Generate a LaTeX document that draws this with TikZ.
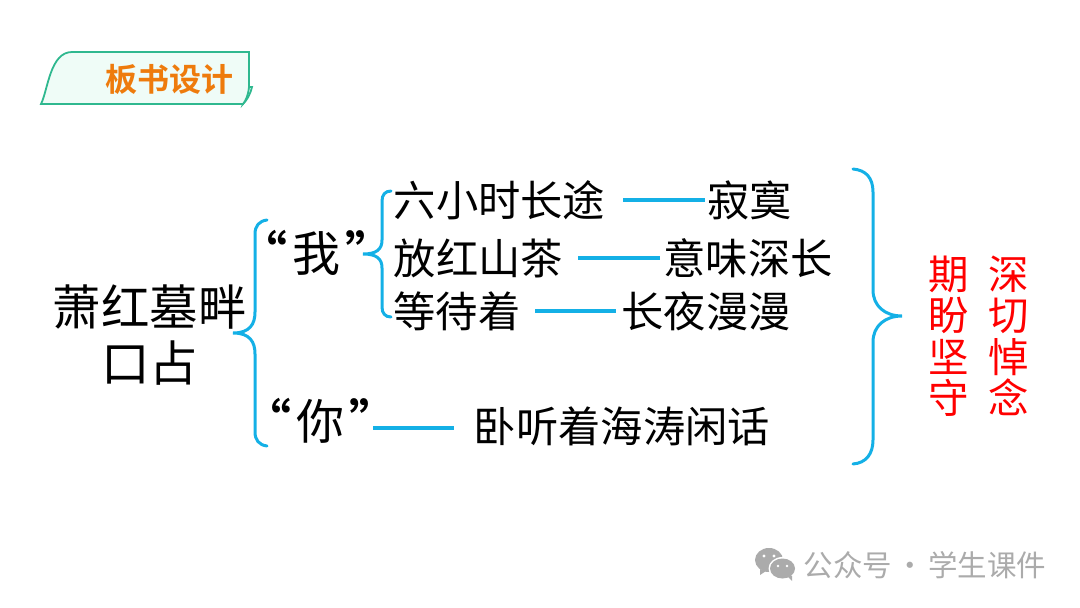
\documentclass[tikz,border=0pt]{standalone}
\usepackage{fontspec}
\setmainfont{Noto Sans CJK SC}
\newfontfamily\cjkb{Noto Sans CJK SC Bold}
\newcommand{\fsz}[1]{\fontsize{#1pt}{#1pt}\selectfont}
\definecolor{bluebr}{HTML}{14B0E6}
\definecolor{tagedge}{HTML}{2FB88F}
\definecolor{tagfill}{HTML}{EFFCF7}
\definecolor{tagtext}{HTML}{EE7B0C}
\definecolor{markgray}{HTML}{ABABAB}
\tikzset{
 x=1pt,y=-1pt,
 txt/.style={inner sep=0pt,outer sep=0pt,text=black,font=\fsz{42.3},anchor=center},
 rubric/.style={inner sep=0pt,outer sep=0pt,text=red,font=\fsz{40.5},align=center,text width=42pt},
 dashln/.style={draw=bluebr,line width=4pt},
 bracket/.style={draw=bluebr,line width=3pt,line cap=round},
}
\begin{document}
\begin{tikzpicture}
\useasboundingbox (0,0) rectangle (1080,608);
% tag
\draw[tagedge,line width=1.8pt,fill=tagfill] (249,87) -- (252,87) .. controls (250,95) and (247,100) .. (243,104) -- (249,87);
\draw[tagedge,line width=1.8pt,fill=tagfill] (41,104) .. controls (48,90) and (50,52) .. (72,52) -- (249,52) -- (249,87) .. controls (248,96) and (246,100) .. (243,104) -- cycle;
\node[inner sep=0pt,text=tagtext,font=\fsz{32}\cjkb] (tag) at (169,79.5) {板书设计};
% main texts
\node[txt,font=\fsz{48.5}] (root1) at (149.5,307) {萧红墓畔};
\node[txt,font=\fsz{48.5}] (root2) at (149.5,363) {口\hspace{0pt}占};
\node[txt,font=\fsz{48}] (wo) at (316,253) {{\cjkb “}\hspace{5pt}我\hspace{5pt}{\cjkb ”}};
\node[txt,font=\fsz{48}] (ni) at (320,421) {{\cjkb “}\hspace{5pt}你\hspace{5pt}{\cjkb ”}};
\node[txt] (a1) at (499.5,200) {六小时长途};
\node[txt] (a2) at (749.5,200) {寂寞};
\node[txt] (b1) at (478.5,258) {放红山茶};
\node[txt] (b2) at (748,258) {意味深长};
\node[txt] (c1) at (457,311) {等待着};
\node[txt] (c2) at (706,311) {长夜漫漫};
\node[txt] (d2) at (622,426) {卧听着海涛闲话};
% dashes
\draw[dashln,shorten <=18pt,shorten >=2pt] (a1.east |- a2.west) -- (a2.west);
\draw[dashln,shorten <=15pt,shorten >=3pt] (b1.east) -- (b2.west);
\draw[dashln,shorten <=15pt,shorten >=5pt] (c1.east) -- (c2.west);
\coordinate (nidash) at (373,428);
\draw[dashln,shorten >=20pt] (nidash) -- (nidash -| d2.west);
% braces
\draw[bracket] (267,220) .. controls (259,221) and (255,226) .. (255,234) -- (255,312)
  .. controls (255,324) and (250,333) .. (233,333) .. controls (250,333) and (255,342) .. (255,354)
  -- (255,432) .. controls (255,440) and (259,445) .. (267,446);
\draw[bracket] (391,191) .. controls (385,191) and (382,195) .. (382,201) -- (382,240)
  .. controls (382,249) and (377,254) .. (363,254) .. controls (377,254) and (382,259) .. (382,268)
  -- (382,307) .. controls (382,313) and (385,317) .. (391,317);
\draw[bracket] (853,169) .. controls (866,170) and (873,178) .. (873,192) -- (873,290)
  .. controls (873,306) and (885,316) .. (902,316) .. controls (885,316) and (873,326) .. (873,342)
  -- (873,440) .. controls (873,454) and (866,463) .. (853,464);
% red
\node[rubric] (r1) at (1009,336) {深\\[1pt]切\\[1pt]悼\\[1pt]念};
\node[rubric] (r2) at (948.5,336) {期\\[1pt]盼\\[1pt]坚\\[1pt]守};
% watermark
\fill[markgray] (769,560) ellipse (14 and 12);
\fill[markgray] (760,569) -- (766,571) -- (760,575) -- cycle;
\fill[white] (782.5,568.5) ellipse (14 and 11.5);
\fill[markgray] (782.5,568.5) ellipse (12.5 and 10);
\fill[markgray] (787,576) -- (792,576) -- (792,581) -- cycle;
\fill[white] (764,556) circle (1.7) (774,556) circle (1.7) (778,566) circle (1.4) (787,566) circle (1.4);
\node[inner sep=0pt,text=markgray,font=\fsz{29.5}] (wm) at (925,565) {公众号\hspace{3.5pt}·\hspace{3.5pt}学生课件};
\end{tikzpicture}
\end{document}
